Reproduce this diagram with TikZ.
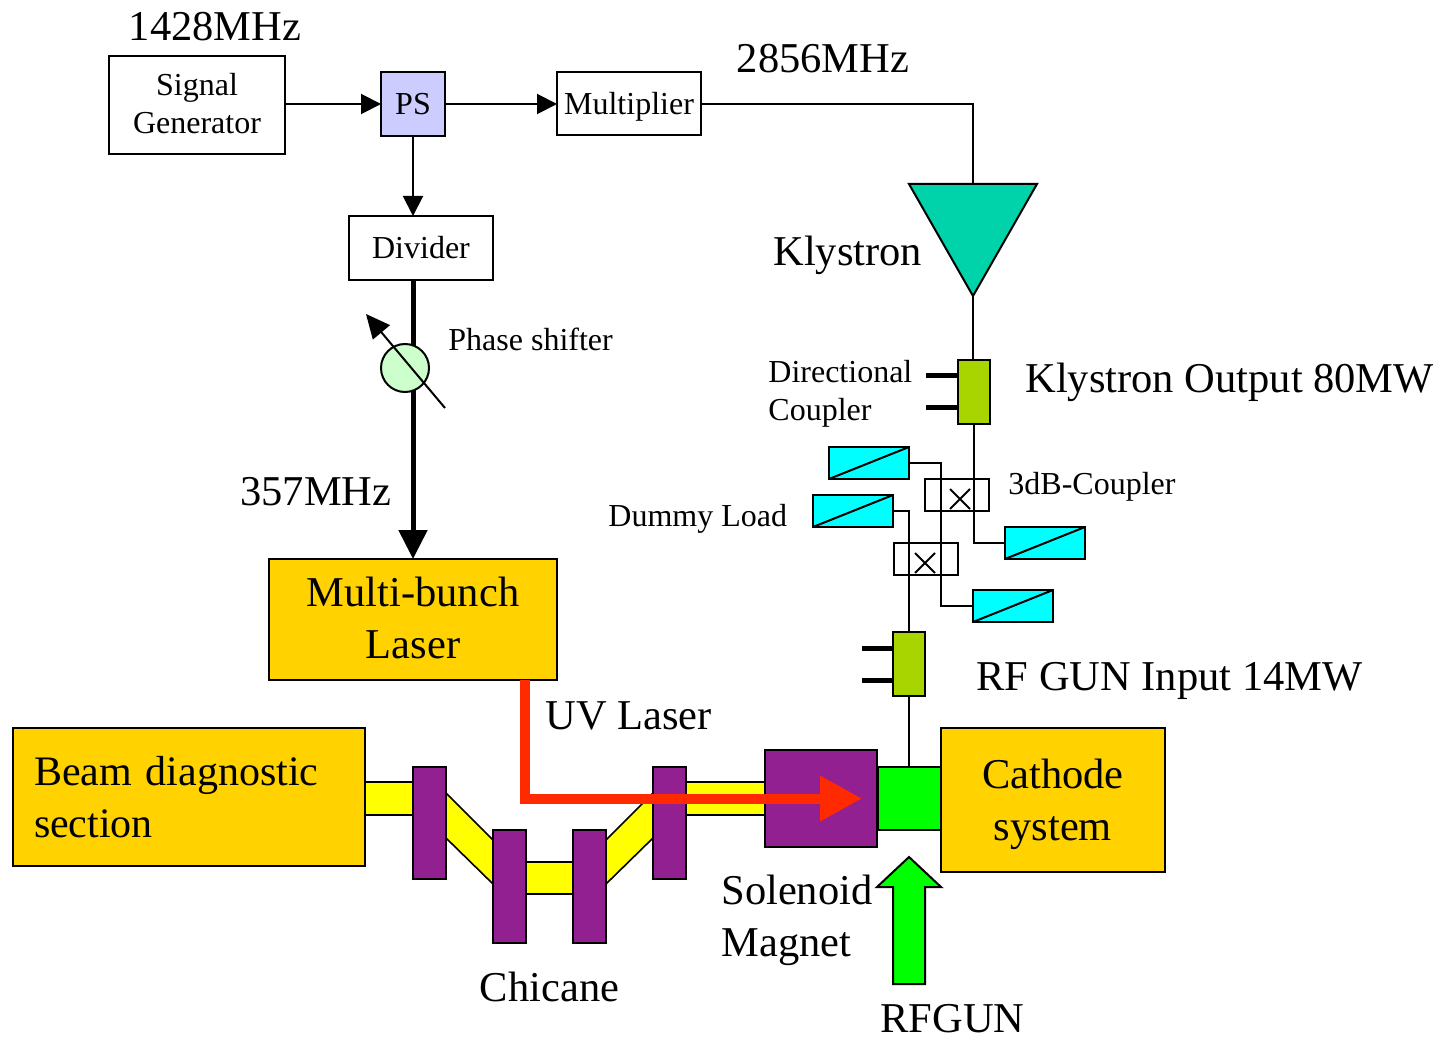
\documentclass[tikz,border=0pt]{standalone}
\usepackage{fontspec}
\setmainfont{Liberation Serif}
\usetikzlibrary{arrows.meta,calc}
\definecolor{lav}{HTML}{CCCCFF}
\definecolor{klyc}{HTML}{00D2AA}
\definecolor{oliveg}{HTML}{A8D400}
\definecolor{dumc}{HTML}{00FFFF}
\definecolor{goldc}{HTML}{FFD200}
\definecolor{purp}{HTML}{922090}
\definecolor{yel}{HTML}{FFFF00}
\definecolor{grn}{HTML}{00FF00}
\definecolor{redc}{HTML}{FF2A00}
\definecolor{shift}{HTML}{CCFFCC}
\newcommand\fsm{\fontsize{16}{19}\selectfont}
\newcommand\fbg{\fontsize{21.25}{26}\selectfont}
\newcommand\fbd{\fontsize{21}{26}\selectfont}
% box from pixel corners
\newcommand\pxbox[6][]{\node[boxn,#1,minimum width={(#4-#2)*.5pt},minimum height={(#5-#3)*.5pt}] (#6) at ({(#2+#4)/2},{(#3+#5)/2})}
\tikzset{
  boxn/.style={draw=black,line width=1pt,inner sep=0pt,outer sep=0pt,align=center},
  small/.style={font=\fsm},
  big/.style={font=\fbg},
  golden/.style={fill=goldc,big},
  magnet/.style={fill=purp,line width=.8pt},
  beam/.style={fill=yel,draw=black,line width=.8pt},
  dummy/.style={fill=dumc},
  oliveb/.style={fill=oliveg},
  xbox/.style={line width=.8pt},
  lab/.style={inner sep=0pt,anchor=base west,align=left},
  labc/.style={inner sep=0pt,anchor=base,align=center},
  wire/.style={draw=black,line width=1pt},
  sig/.style={wire,-{Triangle[length=10pt,width=10pt]}},
  stub/.style={draw=black,line width=2.5pt},
  fat/.style={draw=black,line width=2.5pt},
}
\begin{document}
\begin{tikzpicture}[x=.5pt,y=-.5pt]
\useasboundingbox (0,0) rectangle (1445,1037);
% top row
\pxbox[small,text depth=2pt]{109}{56}{285}{154}{sg} {Signal\\Generator};
\pxbox[small,fill=lav]{381}{72}{445}{136}{ps} {PS};
\pxbox[small,text depth=0pt]{557}{72}{701}{135}{mult} {Multiplier};
\pxbox[small]{349}{216}{493}{280}{div} {Divider};
\draw[sig] (sg.east |- ps.west) -- (ps.west);
\draw[sig] (ps.east) -- (mult.west |- ps.east);
\draw[sig] (ps.south) -- (ps.south |- div.north);
% klystron
\coordinate (kl) at (909,184); \coordinate (kr) at (1037,184); \coordinate (kb) at (973,296);
\coordinate (kt) at (973,184);
\draw[wire,fill=klyc] (kl) -- (kr) -- (kb) -- cycle;
\draw[wire] (mult.east |- ps.east) -| (kt);
% coupler chain
\pxbox[oliveb]{958}{360}{990}{424}{dc1} {};
\pxbox[oliveb]{893}{632}{925}{696}{dc2} {};
\coordinate (s1a) at (926,376); \coordinate (s1b) at (926,408);
\coordinate (s2a) at (862,648); \coordinate (s2b) at (862,680);
\draw[stub] (s1a) -- (s1a -| dc1.west);
\draw[stub] (s1b) -- (s1b -| dc1.west);
\draw[stub] (s2a) -- (s2a -| dc2.west);
\draw[stub] (s2b) -- (s2b -| dc2.west);
\draw[wire] (kb) -- (dc1.north -| kb);
% dummy loads
\pxbox[dummy]{829}{447}{909}{479}{d1} {};
\pxbox[dummy]{813}{495}{893}{527}{d2} {};
\pxbox[dummy]{1005}{527}{1085}{559}{d3} {};
\pxbox[dummy]{973}{590}{1053}{622}{d4} {};
\foreach \n in {d1,d2,d3,d4} \draw[wire] (\n.south west) -- (\n.north east);
% 3 dB couplers
\pxbox[xbox]{925}{479}{989}{511}{hy1} {};
\pxbox[xbox]{894}{543}{958}{575}{hy2} {};
\coordinate (c1) at (960,499); \coordinate (c2) at (925,563);
\draw[wire] ($(c1)+(-10,-10)$) -- ($(c1)+(10,10)$) ($(c1)+(-10,10)$) -- ($(c1)+(10,-10)$);
\draw[wire] ($(c2)+(-10,-10)$) -- ($(c2)+(10,10)$) ($(c2)+(-10,10)$) -- ($(c2)+(10,-10)$);
\coordinate (bend) at (941,606);
\draw[wire] (dc1.south) |- (d3.west);
\draw[wire] (d1.east) -| (bend) -- (d4.west);
\draw[wire] (d2.east) -| (dc2.north);
\pxbox[fill=grn]{878}{767}{941}{830}{gun} {};
\draw[wire] (dc2.south) -- (dc2.south |- gun.north);
% laser path
\pxbox[golden,text depth=2pt]{269}{559}{557}{680}{laser} {Multi-bunch\\Laser};
\draw[fat,-{Triangle[length=14.5pt,width=14pt]}] (laser.north |- div.south) -- (laser.north);
\node[circle,draw=black,fill=shift,line width=1pt,minimum size=24pt,inner sep=0pt] (ph) at (405,368) {};
\coordinate (ta) at (445,408); \coordinate (tb) at (366,314);
\draw[wire,-{Triangle[length=12pt,width=11pt]}] (ta) -- (tb);
% beamline
\pxbox[golden,font=\fbd,text width=155pt,inner xsep=10.5pt,align=left]{13}{728}{365}{866}{bd} {Beam diagnostic\\section};
\pxbox[golden,text depth=0pt]{941}{728}{1165}{872}{cath} {Cathode\\system};
\draw[beam] (365,782) rectangle (413,815);
\draw[beam] (686,782) rectangle (765,815);
\draw[beam] (526,862) rectangle (573,894);
\draw[beam] (446,793) -- (493,840) -- (493,884) -- (446,838) -- cycle;
\draw[beam] (606,840) -- (653,793) -- (653,838) -- (606,884) -- cycle;
\pxbox[magnet]{413}{767}{446}{879}{b1} {};
\pxbox[magnet]{493}{830}{526}{943}{b2} {};
\pxbox[magnet]{573}{830}{606}{943}{b3} {};
\pxbox[magnet]{653}{767}{686}{879}{b4} {};
\pxbox[magnet]{765}{750}{877}{847}{sol} {};
% UV laser
\coordinate (uvstart) at (525,680);
\coordinate (uvbend) at (525,798.5);
\coordinate (uvend) at (862,798.5);
\draw[draw=redc,line width=5pt,-{Triangle[length=21pt,width=21.5pt]}] (uvstart) -- (uvbend) -- (uvend);
% RF arrow
\draw[wire,fill=grn,line join=miter] (909,857) -- (941,887) -- (925,887) -- (925,984) -- (893,984) -- (893,887) -- (877,887) -- cycle;
% labels
\node[lab,big] (t1428) at (128.5,41) {1428MHz};
\node[lab,big] (t2856) at (736.5,73) {2856MHz};
\node[lab,big] (tkly) at (773,266) {Klystron};
\node[lab,small] (tphs) at (448,351) {Phase shifter};
\node[lab,small] (tdc) at (768,421) {Directional\\Coupler};
\node[lab,big] (tout) at (1025,393) {Klystron Output 80MW};
\node[lab,small] (t3db) at (1008,494) {3dB-Coupler};
\node[lab,small] (tdum) at (608,526) {Dummy Load};
\node[lab,big] (t357) at (240,505) {357MHz};
\node[lab,big] (trf) at (976,690) {RF GUN Input 14MW};
\node[lab,big] (tuv) at (545,729) {UV Laser};
\node[lab,big] (tsol) at (721,956.5) {Solenoid\\Magnet};
\node[labc,big] (tchi) at (549.5,1001) {Chicane};
\node[lab,big] (trfg) at (880,1032) {RFGUN};
\end{tikzpicture}
\end{document}
